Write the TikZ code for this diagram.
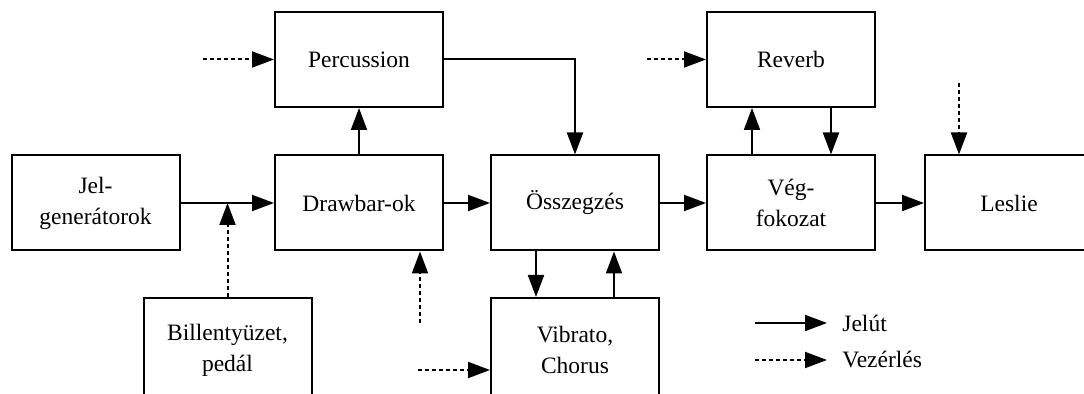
\documentclass[tikz,border=0pt]{standalone}
\usepackage{fontspec}
\setmainfont{Liberation Serif}
\usetikzlibrary{arrows.meta}

\begin{document}
\begin{tikzpicture}[x=0.5pt, y=-0.5pt,
  blokk/.style={draw, line width=1pt, minimum width=84pt, minimum height=47.5pt,
    inner sep=0pt, align=center, font=\fontsize{11.75}{15.5}\selectfont},
  felirat/.style={anchor=west, inner sep=0pt, inner xsep=7.5pt, font=\fontsize{11.75}{15.5}\selectfont},
  jel/.style={line width=1pt, -{Triangle[length=11pt, width=8pt]}},
  vez/.style={jel, dash pattern=on 2pt off 1.5pt}]
  \useasboundingbox (0,0) rectangle (1084,394);
  % blokkok
  \node[blokk] (jelgen) at (95.5,203) {Jel-\\generátorok};
  \node[blokk] (drawbar) at (359,203) {Drawbar-ok};
  \node[blokk] (ossz) at (575,203) {Összegzés};
  \node[blokk] (vegf) at (791,203) {Vég-\\fokozat};
  \node[blokk] (leslie) at (1009,203) {Leslie};
  \node[blokk] (perc) at (359,59.5) {Percussion};
  \node[blokk] (reverb) at (791,59.5) {Reverb};
  \node[blokk, minimum height=52pt] (bill) at (227.5,350) {Billentyüzet,\\pedál};
  \node[blokk, minimum height=52pt] (vib) at (575,350) {Vibrato,\\Chorus};
  % jelut
  \draw[jel] (jelgen) -- (drawbar);
  \draw[jel] (drawbar) -- (ossz);
  \draw[jel] (ossz) -- (vegf);
  \draw[jel] (vegf) -- (leslie);
  \draw[jel] (drawbar) -- (perc);
  \draw[jel] (perc.east) -| (ossz.north);
  \draw[jel] ([xshift=-19.5pt]vegf.north) -- ([xshift=-19.5pt]reverb.south);
  \draw[jel] ([xshift=20pt]reverb.south) -- ([xshift=20pt]vegf.north);
  \draw[jel] ([xshift=-19.5pt]ossz.south) -- ([xshift=-19.5pt]vib.north);
  \draw[jel] ([xshift=19.5pt]vib.north) -- ([xshift=19.5pt]ossz.south);
  % vezerles
  \coordinate (v-perc) at (203,59.5);
  \coordinate (v-rev) at (647,59.5);
  \coordinate (v-leslie) at (959,83);
  \coordinate (v-draw) at (420,323);
  \coordinate (v-vib) at (418,370);
  \draw[vez] (v-perc) -- (perc);
  \draw[vez] (v-rev) -- (reverb);
  \draw[vez] (v-leslie) -- (v-leslie |- leslie.north);
  \draw[vez] (v-draw) -- (v-draw |- drawbar.south);
  \draw[vez] (v-vib) -- (v-vib -| vib.west);
  \draw[vez] (bill.north) -- (bill.north |- jelgen);
  % jelmagyarazat
  \coordinate (l-jel) at (755,323);
  \coordinate (l-vez) at (755,360);
  \node[felirat] (t-jel) at (827,323) {Jelút};
  \node[felirat] (t-vez) at (827,360) {Vezérlés};
  \draw[jel] (l-jel) -- (t-jel);
  \draw[vez] (l-vez) -- (t-vez);
\end{tikzpicture}
\end{document}
